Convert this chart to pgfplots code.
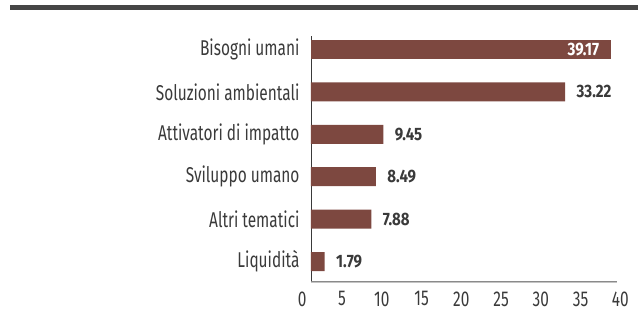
\documentclass[border=0pt]{standalone}
\usepackage{fontspec}
\setmainfont{Fira Sans}[FakeStretch=0.72]
\newfontfamily\valuefont{Fira Sans}[FakeStretch=0.84]
\usepackage{pgfplots}
\pgfplotsset{compat=1.18}

\definecolor{barbrown}{HTML}{7D4840}
\definecolor{txtgray}{HTML}{3A3A3A}
\definecolor{rulegray}{HTML}{464646}
\definecolor{basegray}{HTML}{8A8A8A}
\definecolor{baselight}{HTML}{C4C4C4}

\begin{document}
\begin{tikzpicture}[x=1bp,y=1bp]
\begin{axis}[
  at={(0,0)}, anchor=south west,
  scale only axis,
  width=306bp, height=245bp,
  xmin=0, xmax=40,
  ymin=-0.46, ymax=5.32,
  xtick={0,5,...,40},
  ytick={0,...,5},
  yticklabels={Liquidità,Altri tematici,Sviluppo umano,Attivatori di impatto,Soluzioni ambientali,Bisogni umani},
  major tick length=0pt,
  axis x line*=bottom,
  axis y line*=left,
  x axis line style={draw=none},
  y axis line style={draw=txtgray, line width=0.7bp, -},
  tick label style={font=\fontsize{21.5}{24}\selectfont, text=txtgray},
  /pgf/number format/assume math mode=true,
  yticklabel style={xshift=-8bp},
  % the scale labels sit slightly wider than the axis itself
  xticklabel style={yshift=-7bp, xshift=\tick*0.3bp-8.7bp},
  xbar, bar width=19bp, bar shift=0pt,
  nodes near coords style={font=\valuefont\bfseries\fontsize{18}{20}\selectfont},
]
% every bar but the longest carries its value to the right
\addplot[fill=barbrown, draw=none,
  nodes near coords, point meta=explicit symbolic,
  nodes near coords style={anchor=west, xshift=8bp, text=txtgray}]
  table[meta=v] {
    x     y  v
    1.79  0  1.79
    7.88  1  7.88
    8.49  2  8.49
    9.45  3  9.45
    33.22 4  33.22
  };
% the longest bar carries its value inside, in white
\addplot[fill=barbrown, draw=none,
  nodes near coords, point meta=explicit symbolic,
  nodes near coords style={anchor=east, xshift=-8bp, text=white}]
  table[meta=v] {
    x     y  v
    39.17 5  39.17
  };
\end{axis}
% baseline of the scale: a grey double rule
\fill[basegray] (0,-0.9bp) rectangle (306bp,0.4bp);
\fill[baselight] (0,-2.4bp) rectangle (306bp,-1.2bp);
% heading rule
\fill[rulegray] (-301bp,271bp) rectangle (327bp,275.5bp);
\pgfresetboundingbox
\useasboundingbox (-311bp,-44bp) rectangle (327bp,281bp);
\end{tikzpicture}
\end{document}
